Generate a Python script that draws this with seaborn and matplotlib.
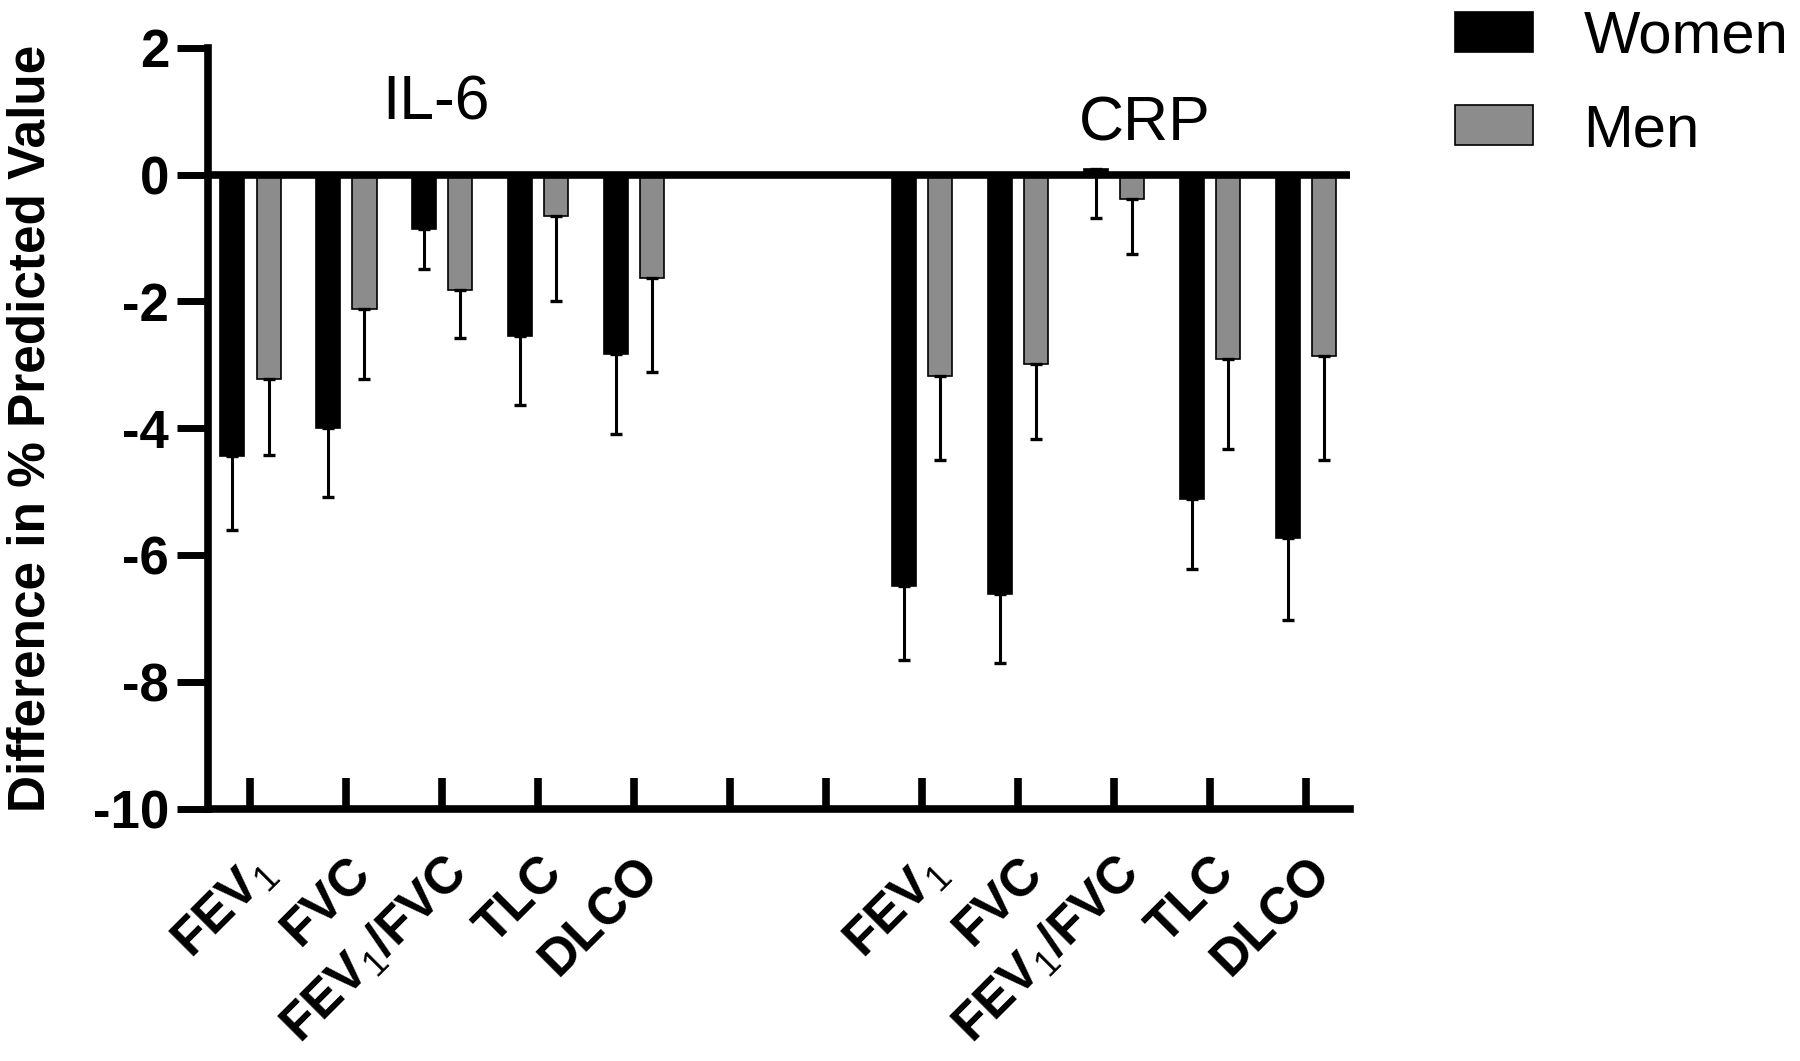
import matplotlib
matplotlib.use("Agg")
import matplotlib.pyplot as plt
import pandas as pd
import seaborn as sns

# Lung function outcomes (one group per marker)
categories = ["FEV1", "FVC", "FEV1/FVC", "TLC", "DLCO"]
tick_labels = ["FEV$_1$", "FVC", "FEV$_1$/FVC", "TLC", "DLCO"]
sexes = ["Women", "Men"]

# IL-6: difference in % predicted value, error bar length (drawn downward)
il6_women = [-4.43, -4.00, -0.86, -2.54, -2.83]
il6_women_err = [1.17, 1.09, 0.63, 1.09, 1.26]
il6_men = [-3.23, -2.12, -1.82, -0.66, -1.63]
il6_men_err = [1.19, 1.10, 0.76, 1.33, 1.48]

# CRP
crp_women = [-6.49, -6.61, 0.08, -5.11, -5.73]
crp_women_err = [1.16, 1.09, 0.77, 1.11, 1.29]
crp_men = [-3.18, -2.98, -0.38, -2.91, -2.86]
crp_men_err = [1.32, 1.19, 0.87, 1.41, 1.64]

# Build long-format table
rows = []
groups = [
    ("IL-6", il6_women, il6_women_err, il6_men, il6_men_err),
    ("CRP", crp_women, crp_women_err, crp_men, crp_men_err),
]
for prefix, women, women_err, men, men_err in groups:
    for i, cat in enumerate(categories):
        rows.append({"slot": f"{prefix} {cat}", "sex": "Women",
                     "value": women[i], "err": women_err[i]})
        rows.append({"slot": f"{prefix} {cat}", "sex": "Men",
                     "value": men[i], "err": men_err[i]})
df = pd.DataFrame(rows)

# two empty slots between the marker groups
order = ([f"IL-6 {c}" for c in categories] + ["gap 1", "gap 2"]
         + [f"CRP {c}" for c in categories])
labels = tick_labels + ["", ""] + tick_labels

sns.set_style("ticks")
plt.rcParams["font.family"] = ["Liberation Sans", "DejaVu Sans"]
plt.rcParams["mathtext.fontset"] = "custom"
plt.rcParams["mathtext.rm"] = "Liberation Sans"
plt.rcParams["mathtext.default"] = "rm"
for key in ["text.color", "axes.edgecolor", "axes.labelcolor",
            "xtick.color", "ytick.color"]:
    plt.rcParams[key] = "black"

fig = plt.figure(figsize=(18, 10.61), dpi=100)
ax = fig.add_axes([0.1156, 0.2375, 0.6344, 0.7176])

sns.barplot(
    data=df,
    x="slot",
    y="value",
    hue="sex",
    order=order,
    hue_order=sexes,
    palette={"Women": "black", "Men": "#8c8c8c"},
    width=0.76,
    gap=0.34,
    saturation=1,
    errorbar=None,
    edgecolor="black",
    linewidth=1.2,
    ax=ax,
)

# One-sided error bars below each bar
err_lookup = df.set_index(["slot", "sex"])["err"]
for container, sex in zip(ax.containers, sexes):
    for bar in container:
        xc = bar.get_x() + bar.get_width() / 2
        slot = order[int(round(xc))]
        h = bar.get_y() + bar.get_height()
        err = err_lookup[(slot, sex)]
        ax.errorbar(xc, h, yerr=[[err], [0]], fmt="none", ecolor="black",
                    elinewidth=2.2, capsize=4.3, capthick=2.4, zorder=4)

ax.axhline(0, color="black", lw=5.5, zorder=3)

ax.set_xlim(-0.44, 11.46)
ax.set_ylim(-10, 2)
ax.set_yticks(range(-10, 3, 2))
ax.set_yticklabels([str(v) for v in range(-10, 3, 2)], fontweight="bold")
ax.set_xticks(range(len(order)))
ax.set_xticklabels(labels, rotation=45, ha="right", rotation_mode="anchor",
                   fontweight="bold")

for side in ["top", "right"]:
    ax.spines[side].set_visible(False)
for side in ["left", "bottom"]:
    ax.spines[side].set_linewidth(5.5)

ax.tick_params(axis="y", direction="out", length=22, width=5,
               labelsize=38, pad=6)
ax.tick_params(axis="x", direction="in", length=22, width=5.5,
               labelsize=37, pad=28)

ax.set_xlabel("")
ax.set_ylabel("Difference in % Predicted Value", fontsize=37,
              fontweight="bold")
ax.yaxis.set_label_coords(-0.134, 0.5)

ax.text(1.93, 1.12, "IL-6", fontsize=45, ha="center", va="center")
ax.text(9.32, 0.80, "CRP", fontsize=45, ha="center", va="center")

sns.move_legend(ax, "upper left", bbox_to_anchor=(1.092, 1.05),
                frameon=False, title=None, fontsize=43,
                handlelength=1.3, handleheight=0.65, handletextpad=0.85,
                labelspacing=0.65, borderaxespad=0, borderpad=0)

fig.savefig("out.png", dpi=100)
